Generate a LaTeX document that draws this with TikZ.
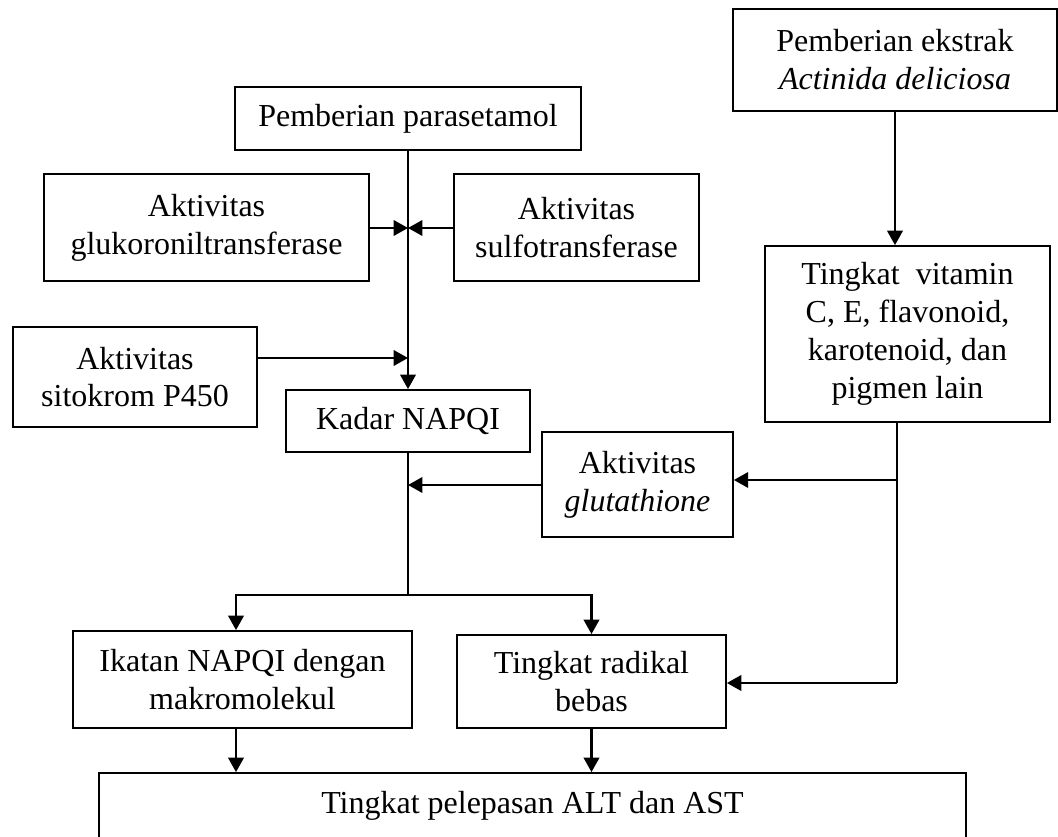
\documentclass[tikz,border=0pt]{standalone}
\usepackage{fontspec}
\setmainfont{Liberation Serif}
\usetikzlibrary{arrows.meta, calc}

\begin{document}
\begin{tikzpicture}[x=0.375pt, y=-0.375pt, >={Triangle[length=5.4pt, width=5.8pt]}, line width=0.85pt,
  kotak/.style={draw, line width=0.65pt, align=center, inner sep=2pt,
    font=\fontsize{12pt}{14.2pt}\selectfont}]
  \useasboundingbox (0,0) rectangle (1058,837);
  % jalur parasetamol
  \node[kotak, minimum width=130pt, minimum height=23.6pt] (para) at (408,118.5) {Pemberian parasetamol};
  \node[kotak, minimum width=121.9pt, minimum height=40.1pt] (gluk) at (206.5,227.5) {Aktivitas\\glukoroniltransferase};
  \node[kotak, minimum width=91.9pt, minimum height=40.1pt] (sulfo) at (576.5,227.5) {Aktivitas\\sulfotransferase};
  \node[kotak, minimum width=91.5pt, minimum height=37.5pt] (sito) at (135,377) {Aktivitas\\sitokrom P450};
  \node[kotak, minimum width=91.5pt, minimum height=23.3pt] (napqi) at (408,421) {Kadar NAPQI};
  % jalur ekstrak
  \node[kotak, minimum width=121.5pt, minimum height=38.3pt] (ekstrak) at (895,60) {Pemberian ekstrak\\\textit{Actinida deliciosa}};
  \node[kotak, minimum width=106.9pt, minimum height=66pt] (vit) at (907.5,334) {Tingkat\ \ vitamin\\C, E, flavonoid,\\karotenoid, dan\\pigmen lain};
  \node[kotak, minimum width=71.6pt, minimum height=39.4pt] (glut) at (637.5,484.5) {Aktivitas\\\textit{glutathione}};
  % hasil
  \node[kotak, minimum width=127.1pt, minimum height=36.4pt] (ikatan) at (242.5,679.5) {Ikatan NAPQI dengan\\makromolekul};
  \node[kotak, minimum width=100.9pt, minimum height=34.9pt] (radikal) at (591.5,681.5) {Tingkat radikal\\bebas};
  \node[kotak, minimum width=325.1pt, minimum height=36.4pt] (alt) at (532.5,821.5) {Tingkat pelepasan ALT dan AST\\ \mbox{}};

  % titik cabang
  \coordinate (j1) at (408,228);
  \coordinate (j2) at (408,358);
  \coordinate (j3) at (408,485);
  \coordinate (cab) at (408,595);
  \coordinate (ki) at (236,595);
  \coordinate (ka) at (591.5,595);
  \coordinate (v1) at (897,480);
  \coordinate (v2) at (897,683);

  % panah parasetamol ke NAPQI
  \draw[->] (para) -- (napqi);
  \draw[->] (gluk.east |- j1) -- (j1);
  \draw[->] (sulfo.west |- j1) -- (j1);
  \draw[->] (sito.east |- j2) -- (j2);
  % NAPQI bercabang
  \draw[line width=0.5pt] (napqi.south) -- (cab);
  \draw[->] (glut.west |- j3) -- (j3);
  \draw[->] (cab) -- (ki) -- (ki |- ikatan.north);
  \draw[->] (cab) -- (ka) -- (ka |- radikal.north);
  \draw[->] (ki |- ikatan.south) -- (ki |- alt.north);
  \draw[->] (radikal.south) -- (radikal.south |- alt.north);
  % ekstrak ke antioksidan
  \draw[->] (ekstrak.south) -- (ekstrak.south |- vit.north);
  \draw[line width=0.5pt] (v1 |- vit.south) -- (v2);
  \draw[->] (v1) -- (glut.east |- v1);
  \draw[->] (v2) -- (radikal.east |- v2);
\end{tikzpicture}
\end{document}
